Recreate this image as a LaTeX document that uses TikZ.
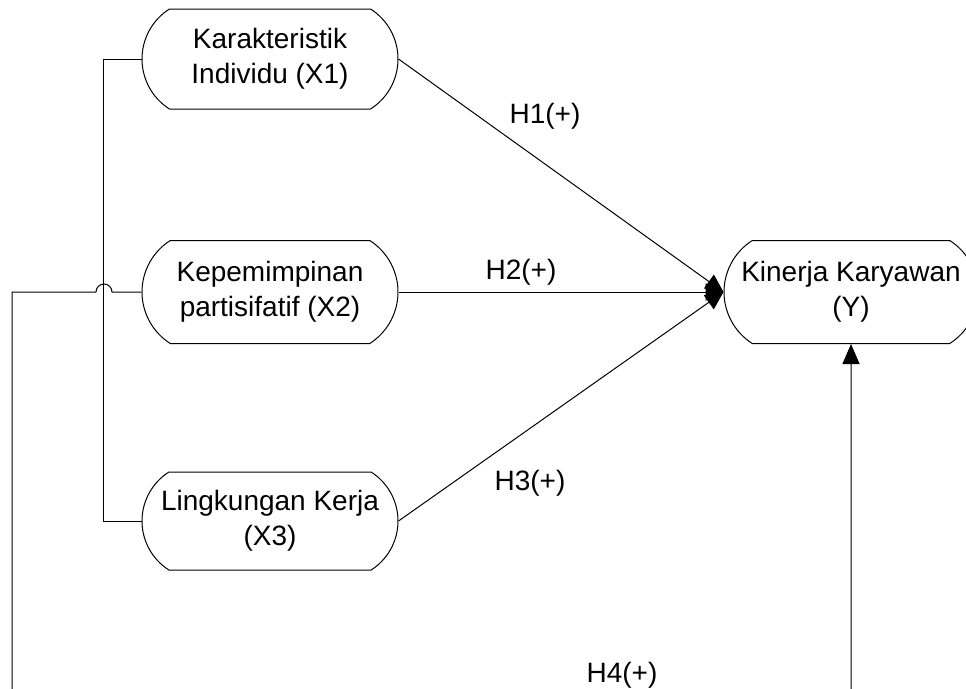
\documentclass[tikz,border=0pt]{standalone}
\usepackage{fontspec}
\setmainfont{Liberation Sans}
\usetikzlibrary{shapes.misc,arrows.meta}
\begin{document}
\begin{tikzpicture}[x=1pt,y=-1pt,
  box/.style={draw, line width=1pt, rounded rectangle, rounded rectangle arc length=115,
    inner sep=0pt, minimum width=256pt, align=center,
    font=\fontsize{28}{35}\selectfont},
  lbl/.style={font=\fontsize{28}{35}\selectfont, inner sep=0pt, anchor=base},
  conn/.style={line width=1pt},
  arr/.style={conn, -{Triangle[length=18pt,width=17pt]}},
  arrbig/.style={conn, -{Triangle[length=20pt,width=17pt]}}]
\clip (0,0) rectangle (966,688);
\fill[white] (0,0) rectangle (966,688);
\node[box, minimum height=100pt] (X1) at (270,59) {Karakteristik\\Individu (X1)};
\node[box, minimum height=103pt] (X2) at (270,292) {Kepemimpinan\\partisifatif  (X2)};
\node[box, minimum height=98pt] (X3) at (270,521) {Lingkungan Kerja\\(X3)};
\node[box, minimum height=103pt, minimum width=254pt] (Y) at (851,292) {Kinerja Karyawan\\(Y)};
% bus on the left
\draw[conn] (X1.west) -- ++(-38,0) |- (X3.west);
% hypotheses
\draw[arr] (X1.east) -- (Y.west);
\draw[arr] (X2.east) -- (Y.west);
\draw[arr] (X3.east) -- (Y.west);
% X2 loop to Y
\draw[arrbig] (X2.west) -- (112,292) arc[start angle=0,end angle=-180,radius=8]
  -- (12,292) -- (12,720) -- (851,720) -- (Y.south);
\node[lbl] (h1) at (545,123) {H1(+)};
\node[lbl] (h2) at (521,279) {H2(+)};
\node[lbl] (h3) at (530,490) {H3(+)};
\node[lbl] (h4) at (622,682) {H4(+)};
\end{tikzpicture}
\end{document}
